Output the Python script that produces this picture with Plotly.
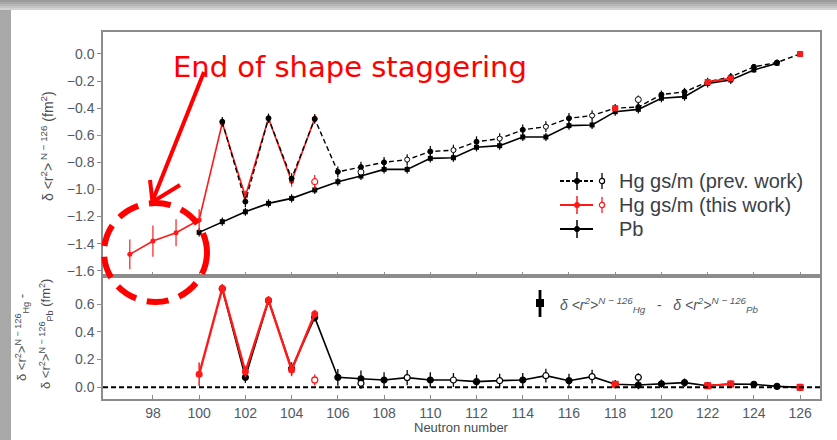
import plotly.graph_objects as go

# ---------------- data ----------------
N_pb = [100, 101, 102, 103, 104, 105, 106, 107, 108, 109, 110, 111, 112,
        113, 114, 115, 116, 117, 118, 119, 120, 121, 122, 123, 124, 125]
pb_top = [-1.317, -1.238, -1.165, -1.103, -1.066, -1.004, -0.943, -0.901, -0.852,
          -0.852, -0.771, -0.766, -0.689, -0.677, -0.613, -0.613, -0.529, -0.524,
          -0.426, -0.409, -0.327, -0.315, -0.217, -0.192, -0.118, -0.069]
pb_err = [0.03, 0.03, 0.03, 0.03, 0.03, 0.03, 0.03, 0.03, 0.03, 0.03, 0.03, 0.03, 0.03,
          0.03, 0.03, 0.03, 0.03, 0.03, 0.03, 0.03, 0.03, 0.03, 0.03, 0.03, 0.02, 0.02]

N_prev = [101, 102, 103, 104, 105, 106, 107, 108, 109, 110, 111, 112, 113,
          114, 115, 116, 117, 118, 119, 120, 121, 122, 123, 124, 125, 126]
prev_top = [-0.500, -1.090, -0.475, -0.920, -0.480, -0.870, -0.835, -0.800, -0.780,
            -0.720, -0.710, -0.648, -0.625, -0.560, -0.537, -0.475, -0.455, -0.400,
            -0.392, -0.300, -0.280, -0.205, -0.170, -0.095, -0.063, 0.000]
prev_top_err = [0.035, 0.04, 0.035, 0.04, 0.035, 0.04, 0.04, 0.04, 0.04, 0.04, 0.04, 0.04, 0.04,
                0.04, 0.04, 0.04, 0.04, 0.03, 0.03, 0.03, 0.03, 0.03, 0.03, 0.02, 0.02, 0.0]
prev_diff = [0.710, 0.072, 0.625, 0.135, 0.504, 0.072, 0.062, 0.053, 0.070, 0.053,
             0.053, 0.041, 0.048, 0.053, 0.084, 0.048, 0.077, 0.022, 0.017, 0.026,
             0.034, 0.012, 0.024, 0.022, 0.007, 0.000]
prev_diff_err = [0.03, 0.04, 0.03, 0.045, 0.03, 0.06, 0.06, 0.055, 0.055, 0.055, 0.05, 0.05, 0.05,
                 0.05, 0.05, 0.05, 0.05, 0.03, 0.03, 0.03, 0.03, 0.02, 0.02, 0.02, 0.02, 0.0]
prev_open = [False, False, False, False, False, False, False, False, True, False,
             True, False, True, False, True, False, True, False, False, False,
             False, False, False, False, False, False]

N_this = [97, 98, 99, 100, 101, 102, 103, 104, 105]
this_top = [-1.479, -1.381, -1.320, -1.226, -0.510, -1.050, -0.475, -0.940, -0.475]
this_top_err = [0.11, 0.115, 0.10, 0.08, 0.03, 0.04, 0.03, 0.04, 0.03]
N_this_diff = [100, 101, 102, 103, 104, 105]
this_diff = [0.094, 0.713, 0.112, 0.628, 0.125, 0.528]
this_diff_err = [0.085, 0.03, 0.04, 0.03, 0.045, 0.03]

N_heavy = [118, 122, 123, 126]
heavy_top = [-0.400, -0.207, -0.180, 0.000]
heavy_diff = [0.022, 0.012, 0.024, 0.000]

N_this_iso = [105]
this_iso_top = [-0.943]
this_iso_diff = [0.053]
N_prev_iso = [107, 119]
prev_iso_top = [-0.872, -0.337]
prev_iso_diff = [0.029, 0.072]

x_ticks = [98, 100, 102, 104, 106, 108, 110, 112, 114, 116, 118, 120, 122, 124, 126]
top_y_ticks = [-1.6, -1.4, -1.2, -1.0, -0.8, -0.6, -0.4, -0.2, 0.0]
bot_y_ticks = [0.0, 0.2, 0.4, 0.6]

legend_labels = ["Hg gs/m (prev. work)", "Hg gs/m (this work)", "Pb"]

# ---------------- geometry ----------------
W, H = 837, 440
ML, MR, MT, MB = 103, 17, 32, 41
PW = W - ML - MR
PH = H - MT - MB
SPLIT = 276
split_frac = (H - MB - SPLIT) / PH


def px(x):
    return (x - ML) / PW


def py(y):
    return (H - MB - y) / PH


RED = "#ff1a1a"
BLK = "#000000"
GRID = "#8c8c8c"
TXT = "#505a66"


def gapped(xs, ys):
    gx, gy = [], []
    for i, (a, b) in enumerate(zip(xs, ys)):
        if i > 0 and a - xs[i - 1] != 1:
            gx.append(None)
            gy.append(None)
        gx.append(a)
        gy.append(b)
    return gx, gy


fig = go.Figure()

# ---- top panel ----
fig.add_trace(go.Scatter(x=N_pb, y=pb_top, mode="lines+markers", xaxis="x", yaxis="y",
                         line=dict(color=BLK, width=1.6),
                         marker=dict(symbol="square", size=5, color=BLK),
                         error_y=dict(type="data", array=pb_err, color=BLK, thickness=1.2, width=0)))
fig.add_trace(go.Scatter(x=N_this, y=this_top, mode="lines+markers", xaxis="x", yaxis="y",
                         line=dict(color=RED, width=1.6),
                         marker=dict(symbol="circle", size=5, color=RED),
                         error_y=dict(type="data", array=this_top_err, color=RED, thickness=1.2, width=0)))
fig.add_trace(go.Scatter(x=N_prev, y=prev_top, mode="lines+markers", xaxis="x", yaxis="y",
                         line=dict(color=BLK, width=1.4, dash="5px,3px"),
                         marker=dict(symbol="circle", size=5,
                                     color=["white" if o else BLK for o in prev_open],
                                     line=dict(color=BLK, width=1)),
                         error_y=dict(type="data", array=prev_top_err, color=BLK, thickness=1.2, width=0)))
hx, hy = gapped(N_heavy, heavy_top)
fig.add_trace(go.Scatter(x=hx, y=hy, mode="lines+markers", xaxis="x", yaxis="y",
                         line=dict(color=RED, width=1.8),
                         marker=dict(symbol="square", size=6, color=RED)))
fig.add_trace(go.Scatter(x=N_prev_iso, y=prev_iso_top, mode="markers", xaxis="x", yaxis="y",
                         marker=dict(symbol="circle", size=6, color="white", line=dict(color=BLK, width=1)),
                         error_y=dict(type="data", array=[0.04, 0.03], color=BLK, thickness=1.2, width=0)))
fig.add_trace(go.Scatter(x=N_this_iso, y=this_iso_top, mode="markers", xaxis="x", yaxis="y",
                         marker=dict(symbol="circle", size=6, color="white", line=dict(color=RED, width=1.2)),
                         error_y=dict(type="data", array=[0.05], color=RED, thickness=1.2, width=0)))

# ---- bottom panel ----
fig.add_trace(go.Scatter(x=N_prev, y=prev_diff, mode="lines+markers", xaxis="x2", yaxis="y2",
                         line=dict(color=BLK, width=1.6),
                         marker=dict(symbol="circle", size=6,
                                     color=["white" if o else BLK for o in prev_open],
                                     line=dict(color=BLK, width=1.2)),
                         error_y=dict(type="data", array=prev_diff_err, color=BLK, thickness=1.3, width=0)))
fig.add_trace(go.Scatter(x=N_this_diff, y=this_diff, mode="lines+markers", xaxis="x2", yaxis="y2",
                         line=dict(color=RED, width=2.4),
                         marker=dict(symbol="circle", size=7, color=RED),
                         error_y=dict(type="data", array=this_diff_err, color=RED, thickness=1.5, width=0)))
hx2, hy2 = gapped(N_heavy, heavy_diff)
fig.add_trace(go.Scatter(x=hx2, y=hy2, mode="lines+markers", xaxis="x2", yaxis="y2",
                         line=dict(color=RED, width=2),
                         marker=dict(symbol="square", size=7, color=RED)))
fig.add_trace(go.Scatter(x=N_prev_iso, y=prev_iso_diff, mode="markers", xaxis="x2", yaxis="y2",
                         marker=dict(symbol="circle", size=6, color="white", line=dict(color=BLK, width=1.2)),
                         error_y=dict(type="data", array=[0.04, 0.03], color=BLK, thickness=1.3, width=0)))
fig.add_trace(go.Scatter(x=N_this_iso, y=this_iso_diff, mode="markers", xaxis="x2", yaxis="y2",
                         marker=dict(symbol="circle", size=6, color="white", line=dict(color=RED, width=1.3)),
                         error_y=dict(type="data", array=[0.04], color=RED, thickness=1.3, width=0)))

xr = [95.84, 126.86]
axis_common = dict(showline=True, linecolor=GRID, linewidth=1.5, mirror=True,
                   showgrid=False, zeroline=False, tickcolor=GRID, tickwidth=1,
                   tickfont=dict(family="Liberation Sans", size=14, color=TXT))

fig.update_layout(
    width=W, height=H, margin=dict(l=ML, r=MR, t=MT, b=MB),
    paper_bgcolor="white", plot_bgcolor="white", showlegend=False,
    xaxis=dict(domain=[0, 1], anchor="y", range=xr, tickvals=x_ticks, ticks="inside",
               ticklen=4, showticklabels=False, **axis_common),
    yaxis=dict(domain=[split_frac, 1], anchor="x", range=[-1.639, 0.162], tickvals=top_y_ticks,
               tickformat=".1f", ticks="outside", ticklen=4, **axis_common),
    xaxis2=dict(domain=[0, 1], anchor="y2", range=xr, tickvals=x_ticks, ticks="inside",
                ticklen=4, matches="x", **axis_common),
    yaxis2=dict(domain=[0, split_frac], anchor="x2", range=[-0.084, 0.802], tickvals=bot_y_ticks,
                tickformat=".1f", ticks="outside", ticklen=4, **axis_common),
)

shapes = []
# zero reference line in bottom panel
shapes.append(dict(type="line", xref="x2 domain", yref="y2", x0=0, x1=1, y0=0, y1=0,
                   line=dict(color=BLK, width=2, dash="5px,3px")))

# window frame (gray strips)
shapes.append(dict(type="rect", xref="paper", yref="paper", x0=px(-5), x1=px(11), y0=py(H + 5), y1=py(-5),
                   fillcolor="#a8a8a8", line=dict(width=0), layer="above"))
for i, c in enumerate(["#9c9c9c", "#a9a9a9", "#b6b6b6", "#c4c4c4", "#d2d2d2"]):
    shapes.append(dict(type="rect", xref="paper", yref="paper", x0=px(-5), x1=px(W + 5),
                       y0=py(2 * i + 2), y1=py(2 * i - (5 if i == 0 else 0)),
                       fillcolor=c, line=dict(width=0), layer="above"))


def seg(x0, y0, x1, y1, color, width, dash=None):
    ln = dict(color=color, width=width)
    if dash:
        ln["dash"] = dash
    shapes.append(dict(type="line", xref="paper", yref="paper", x0=px(x0), y0=py(y0),
                       x1=px(x1), y1=py(y1), line=ln, layer="above"))


def circ(cx, cy, r, fill, color, width):
    shapes.append(dict(type="circle", xref="paper", yref="paper", x0=px(cx - r), x1=px(cx + r),
                       y0=py(cy + r), y1=py(cy - r), fillcolor=fill,
                       line=dict(color=color, width=width), layer="above"))


# ---- top legend (manual) ----
rows_y = [181, 205, 229]
leg_styles = [(BLK, "4px,2px", True), (RED, None, True), (BLK, None, False)]
for yy, (col, dsh, iso) in zip(rows_y, leg_styles):
    seg(560, yy, 593, yy, col, 1.8, dsh)
    seg(577, yy - 9, 577, yy + 9, col, 1.5)
    circ(577, yy, 2.6, col, col, 1)
    if iso:
        seg(602, yy - 8, 602, yy + 8, col, 1.3)
        circ(602, yy, 2.6, "white", col, 1.2)

annotations = []
for yy, lab in zip(rows_y, legend_labels):
    annotations.append(dict(xref="paper", yref="paper", x=px(617), y=py(yy), text=lab,
                            showarrow=False, xanchor="left", yanchor="middle",
                            font=dict(family="Liberation Sans", size=20, color="#3a3f47")))

# ---- bottom legend (manual) ----
seg(540, 290, 540, 317, BLK, 2.8)
shapes.append(dict(type="rect", xref="paper", yref="paper", x0=px(536), x1=px(544),
                   y0=py(307), y1=py(299), fillcolor=BLK, line=dict(width=0), layer="above"))
annotations.append(dict(xref="paper", yref="paper", x=px(558), y=py(305),
                        text="<i>δ &lt;r<sup>2</sup>&gt;<sup>N − 126</sup><sub>Hg</sub></i>   -   "
                             "<i>δ &lt;r<sup>2</sup>&gt;<sup>N − 126</sup><sub>Pb</sub></i>",
                        showarrow=False, xanchor="left", yanchor="middle",
                        font=dict(family="Liberation Sans", size=14, color="#505a66")))

# ---- axis titles ----
annotations.append(dict(xref="paper", yref="paper", x=px(47), y=py(146), textangle=-90,
                        text="δ &lt;r<sup>2</sup>&gt;<sup> N − 126</sup> (fm<sup>2</sup>)",
                        showarrow=False, xanchor="center", yanchor="middle",
                        font=dict(family="Liberation Sans", size=14, color="#474d55")))
annotations.append(dict(xref="paper", yref="paper", x=px(22), y=py(338), textangle=-90,
                        text="δ &lt;r<sup>2</sup>&gt;<sup>N − 126</sup><sub>Hg</sub> -",
                        showarrow=False, xanchor="center", yanchor="middle",
                        font=dict(family="Liberation Sans", size=13, color="#474d55")))
annotations.append(dict(xref="paper", yref="paper", x=px(46), y=py(334), textangle=-90,
                        text="δ &lt;r<sup>2</sup>&gt;<sup>N − 126</sup><sub>Pb</sub> (fm<sup>2</sup>)",
                        showarrow=False, xanchor="center", yanchor="middle",
                        font=dict(family="Liberation Sans", size=13, color="#474d55")))
annotations.append(dict(xref="paper", yref="paper", x=px(461), y=py(427), text="Neutron number",
                        showarrow=False, xanchor="center", yanchor="middle",
                        font=dict(family="Liberation Sans", size=13, color="#474d55")))

# ---- "End of shape staggering" callout ----
annotations.append(dict(xref="paper", yref="paper", x=px(350), y=py(67), text="End of shape staggering",
                        showarrow=False, xanchor="center", yanchor="middle",
                        font=dict(family="DejaVu Sans", size=29, color="#ff0000")))
seg(204, 72, 152.5, 201, "#ff0000", 4)
shapes.append(dict(type="path", xref="paper", yref="paper",
                   path=f"M {px(150)} {py(180)} L {px(152.5)} {py(202)} L {px(180)} {py(185)}",
                   line=dict(color="#ff0000", width=4), layer="above"))
shapes.append(dict(type="circle", xref="paper", yref="paper", x0=px(104), x1=px(207),
                   y0=py(302), y1=py(203), line=dict(color="#ff0000", width=6, dash="22px,11px"),
                   layer="above"))

fig.update_layout(shapes=shapes, annotations=annotations)
fig.write_html("out.html", config={"displayModeBar": False},
               post_script="document.body.style.margin='0';document.body.style.padding='0';")
